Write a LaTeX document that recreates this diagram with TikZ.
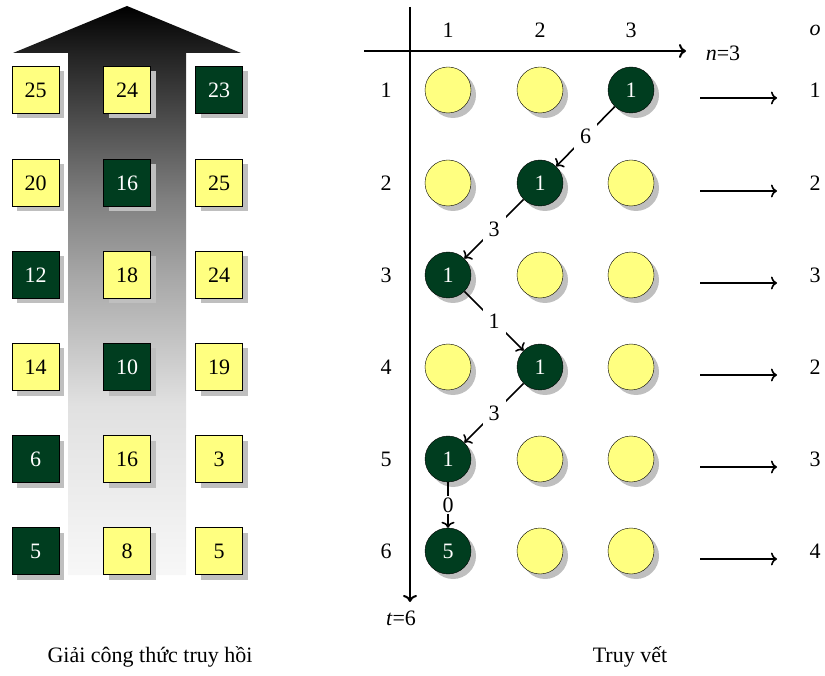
\documentclass[tikz,border=0pt]{standalone}
\usepackage{fontspec}
\setmainfont{Liberation Serif}
\usetikzlibrary{shadows,arrows.meta}

\definecolor{cellyellow}{HTML}{FFFF80}
\definecolor{celldark}{HTML}{003D1F}

% dark at the tip, fading out towards the foot of the arrow
\pgfdeclareverticalshading{rise}{100bp}{
  color(0bp)=(black!3); color(25bp)=(black!3); color(40bp)=(black!12);
  color(51bp)=(black!34); color(58bp)=(black!50); color(71bp)=(black!87);
  color(75bp)=(black); color(100bp)=(black)}

\tikzset{
  cell/.style={draw=black, fill=cellyellow, minimum size=47pt, inner sep=0pt,
    drop shadow={shadow xshift=5pt, shadow yshift=-5pt, fill=black!25, opacity=1}},
  best/.style={cell, fill=celldark, text=white},
  state/.style={cell, circle, minimum size=46pt},
  beststate/.style={state, fill=celldark, text=white},
  lbl/.style={fill=white, inner sep=6pt},
  arr/.style={line width=1.6pt, -{To[length=6pt,width=13pt]}},
}

\begin{document}
\begin{tikzpicture}[x=1pt,y=-1pt,font=\fontsize{22}{26}\selectfont]
\useasboundingbox (0,0) rectangle (825,676);

% bottom-up arrow behind the table
\shade[shading=rise]
  (68,575) -- (68,53) -- (13,53) -- (127,6) -- (241,53) -- (186,53) -- (186,575) -- cycle;

% table of the recurrence
\foreach \y/\sa/\va/\sb/\vb/\sc/\vc [count=\r] in {
    90/cell/25/cell/24/best/23,
    183/cell/20/best/16/cell/25,
    275/best/12/cell/18/cell/24,
    367/cell/14/best/10/cell/19,
    459/best/6/cell/16/cell/3,
    551/best/5/cell/8/cell/5} {
  \node[\sa] (s\r1) at (35.5,\y) {\va};
  \node[\sb] (s\r2) at (127,\y) {\vb};
  \node[\sc] (s\r3) at (219,\y) {\vc};
}
\node (cap1) at (150,657) {Giải công thức truy hồi};

% axes
\draw[line width=2pt,-{To[length=7pt,width=14pt]}] (410,7) -- (410,602) coordinate (tend);
\draw[line width=2pt,-{To[length=7pt,width=14pt]}] (364,51) -- (686,51) coordinate (nend);
\node (tlab) at (401,618) {\textit{t}=6};
\node (nlab) at (723,53) {\textit{n}=3};
\node (olab) at (815,30) {\textit{o}};
\foreach \c/\x in {1/448,2/540,3/631}
  \node (col\c) at (\x,30) {\c};

% states, one picked per row
\foreach \y/\d/\v/\o [count=\r] in {
    90/3/1/1, 183/2/1/2, 275/1/1/3, 367/2/1/2, 459/1/1/3, 551/1/5/4} {
  \node (row\r) at (386,\y) {\r};
  \foreach \c/\x in {1/448,2/540,3/631} {
    \ifnum\c=\d
      \node[beststate] (c\r\c) at (\x,\y) {\v};
    \else
      \node[state] (c\r\c) at (\x,\y) {};
    \fi
  }
  \coordinate (a\r) at (700,\y+8);
  \coordinate (b\r) at (777,\y+8);
  \draw[arr] (a\r) -- (b\r);
  \node (out\r) at (815,\y) {\o};
}

% trace back
\draw[arr] (c13) -- node[lbl]{6} (c22);
\draw[arr] (c22) -- node[lbl]{3} (c31);
\draw[arr] (c31) -- node[lbl]{1} (c42);
\draw[arr] (c42) -- node[lbl]{3} (c51);
\draw[arr] (c51) -- node[lbl,inner sep=2pt]{0} (c61);

\node (cap2) at (630,657) {Truy vết};
\end{tikzpicture}
\end{document}
